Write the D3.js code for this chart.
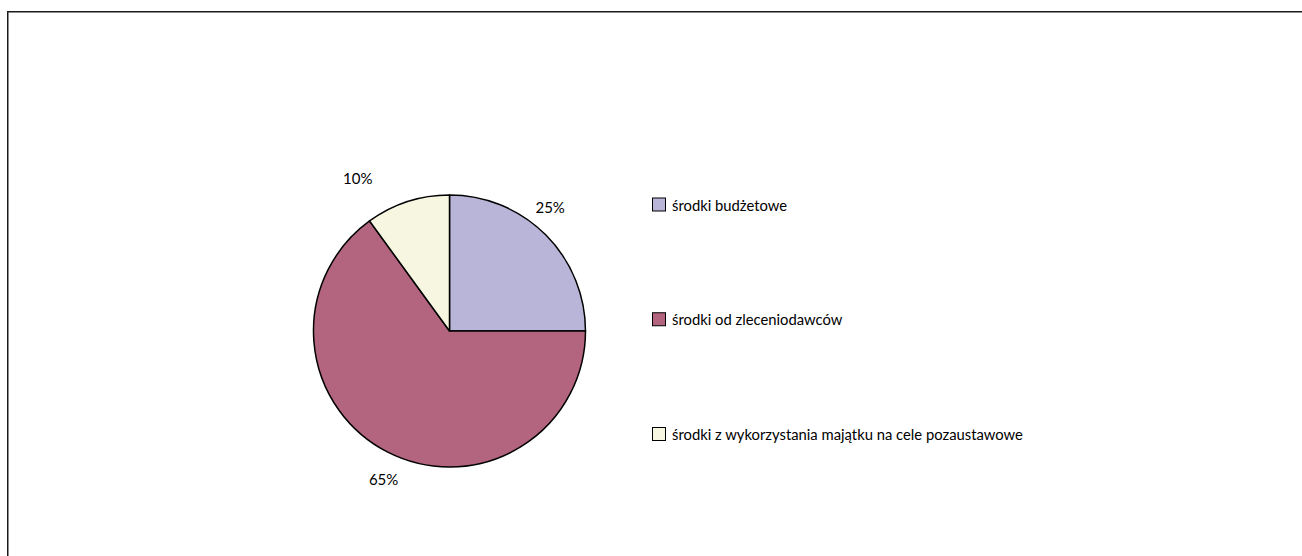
<!DOCTYPE html>
<html>
<head>
<meta charset="utf-8">
<script src="https://cdn.jsdelivr.net/npm/d3@7"></script>
<style>
  html, body { margin: 0; padding: 0; background: #fff; }
  svg { display: block; }
  text { font-family: Lato, "Open Sans", sans-serif; fill: #000; }
</style>
</head>
<body>
<svg id="chart" width="1302" height="556"></svg>
<script>
// Funding sources (share of total)
const categories = [
  "środki budżetowe",
  "środki od zleceniodawców",
  "środki z wykorzystania majątku na cele pozaustawowe"
];
const shares = [25, 65, 10];
const percentLabels = ["25%", "65%", "10%"];
const colors = ["#B9B5D8", "#B3657F", "#F7F7E1"];

const svg = d3.select("#chart");

// Frame: top and left edges of the chart area
svg.append("path")
  .attr("d", "M7.75,556 V11.75 H1302")
  .attr("fill", "none")
  .attr("stroke", "#1a1a1a")
  .attr("stroke-width", 1.5);

const cx = 449.5, cy = 331, radius = 136;

const pie = d3.pie().sort(null).value(d => d);
const arcs = pie(shares);
const arc = d3.arc().innerRadius(0).outerRadius(radius);

const g = svg.append("g").attr("transform", `translate(${cx},${cy})`);

g.selectAll("path.slice")
  .data(arcs)
  .join("path")
  .attr("class", "slice")
  .attr("d", arc)
  .attr("fill", (d, i) => colors[i])
  .attr("stroke", "#000")
  .attr("stroke-width", 1.5)
  .attr("stroke-linejoin", "round");

// Percentage labels placed outside the rim, shifted per slice for clearance
const labelShift = [ -6, -3, -13 ]; // degrees
const labelRadius = [ 160, 162, 178 ];
const labelAngle = (d, i) => (d.startAngle + d.endAngle) / 2 + labelShift[i] * Math.PI / 180;
g.selectAll("text.pct")
  .data(arcs)
  .join("text")
  .attr("class", "pct")
  .attr("x", (d, i) => Math.sin(labelAngle(d, i)) * labelRadius[i])
  .attr("y", (d, i) => -Math.cos(labelAngle(d, i)) * labelRadius[i])
  .attr("text-anchor", "middle")
  .attr("dominant-baseline", "central")
  .style("font-size", "15px")
  .text((d, i) => percentLabels[i]);

// Legend
const legendY = d3.scalePoint()
  .domain(categories)
  .range([204.5, 434]);

const legend = svg.append("g")
  .selectAll("g")
  .data(categories)
  .join("g")
  .attr("transform", d => `translate(652,${legendY(d)})`);

legend.append("rect")
  .attr("x", 0.5)
  .attr("y", -6.5)
  .attr("width", 13)
  .attr("height", 13)
  .attr("fill", (d, i) => colors[i])
  .attr("stroke", "#000")
  .attr("stroke-width", 1);

legend.append("text")
  .attr("x", 20)
  .attr("y", 0)
  .attr("dominant-baseline", "central")
  .style("font-size", "14.8px")
  .text(d => d);
</script>
</body>
</html>
